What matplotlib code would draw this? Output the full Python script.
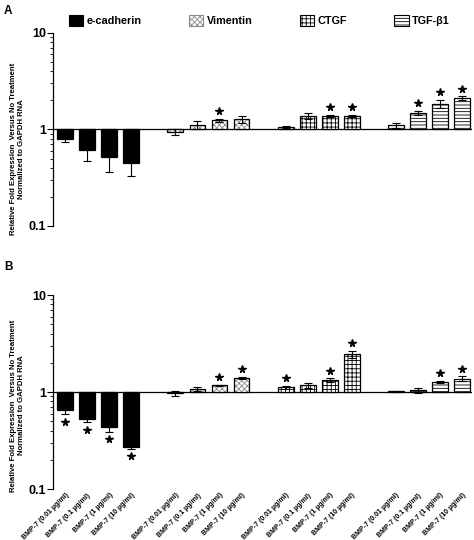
import numpy as np
import matplotlib
matplotlib.use("Agg")
import matplotlib.pyplot as plt
from matplotlib.patches import Patch

# -----------------------------
# Dados
# -----------------------------
genes = ["e-cadherin", "Vimentin", "CTGF", "TGF-β1"]
doses = ["BMP-7 (0.01 µg/ml)", "BMP-7 (0.1 µg/ml)", "BMP-7 (1 µg/ml)", "BMP-7 (10 µg/ml)"]

# painel A
a_ecad = [0.79, 0.61, 0.52, 0.45]
a_ecad_err = [0.05, 0.14, 0.16, 0.12]
a_vim = [0.95, 1.12, 1.24, 1.27]
a_vim_err = [0.07, 0.10, 0.05, 0.10]
a_ctgf = [1.06, 1.38, 1.38, 1.39]
a_ctgf_err = [0.03, 0.11, 0.03, 0.04]
a_tgf = [1.10, 1.49, 1.85, 2.10]
a_tgf_err = [0.07, 0.06, 0.17, 0.10]
a_star = [[0, 0, 0, 0], [0, 0, 1, 0], [0, 0, 1, 1], [0, 1, 1, 1]]

# painel B
b_ecad = [0.65, 0.53, 0.44, 0.27]
b_ecad_err = [0.06, 0.04, 0.05, 0.01]
b_vim = [0.97, 1.07, 1.17, 1.40]
b_vim_err = [0.05, 0.05, 0.02, 0.03]
b_ctgf = [1.12, 1.18, 1.32, 2.45]
b_ctgf_err = [0.04, 0.07, 0.06, 0.22]
b_tgf = [1.02, 1.04, 1.27, 1.37]
b_tgf_err = [0.01, 0.07, 0.03, 0.08]
b_star = [[1, 1, 1, 1], [0, 0, 1, 1], [1, 0, 1, 1], [0, 0, 1, 1]]

# -----------------------------
# Estilo
# -----------------------------
plt.rcParams["font.family"] = ["Liberation Sans", "DejaVu Sans"]
plt.rcParams["font.weight"] = "bold"
plt.rcParams["hatch.linewidth"] = 0.6

styles = [
    dict(facecolor="black", edgecolor="black", hatch=None),
    dict(facecolor="white", edgecolor="#8c8c8c", hatch="xxxxxx"),
    dict(facecolor="white", edgecolor="black", hatch="++++"),
    dict(facecolor="white", edgecolor="black", hatch="-----"),
]
bar_w = 0.72


def draw_panel(ax, series, errs, stars, show_labels):
    """Desenha as 4 séries (genes) com barras partindo de 1 em escala log."""
    ax.set_yscale("log")
    ax.set_ylim(0.1, 10)
    ax.set_xlim(-0.55, 18.45)

    for g, (vals, err) in enumerate(zip(series, errs)):
        vals = np.array(vals)
        err = np.array(err)
        x = g * 5 + np.arange(len(vals))
        st = styles[g]
        ax.bar(x, vals - 1, bottom=1, width=bar_w, facecolor=st["facecolor"],
               edgecolor=st["edgecolor"], hatch=st["hatch"], linewidth=0, zorder=2)
        # contorno preto por cima (o hachurado pode ser cinza)
        ax.bar(x, vals - 1, bottom=1, width=bar_w, fill=False,
               edgecolor="black", linewidth=0.9, zorder=3)
        ax.errorbar(x, vals, yerr=err, fmt="none", ecolor="black",
                    elinewidth=0.8, capsize=3, capthick=0.8, zorder=4)

        # asteriscos de significância
        for i in range(len(vals)):
            if not stars[g][i]:
                continue
            if vals[i] >= 1:
                ys = (vals[i] + err[i]) * 1.2
            else:
                ys = (vals[i] - err[i]) / 1.2
            ax.plot(x[i], ys, marker="*", color="black", markersize=5.5, zorder=5)

    ax.axhline(1, color="black", linewidth=0.9, zorder=1)

    for s in ["top", "right", "bottom"]:
        ax.spines[s].set_visible(False)
    ax.spines["left"].set_linewidth(0.9)

    ax.set_yticks([0.1, 1, 10])
    ax.set_yticklabels(["0.1", "1", "10"], fontsize=9, fontweight="bold")
    ax.tick_params(axis="y", which="major", length=4, width=0.8, pad=1)
    ax.tick_params(axis="y", which="minor", length=2, width=0.6)

    xt = [g * 5 + i for g in range(4) for i in range(4)]
    ax.set_xticks(xt)
    if show_labels:
        ax.set_xticklabels(doses * 4, rotation=45, ha="right", va="top",
                           rotation_mode="anchor", fontsize=5, fontweight="bold")
    else:
        ax.set_xticklabels([])
    ax.tick_params(axis="x", length=0, pad=2)

    ax.set_ylabel("Relative Fold Expression  Versus No Treatment\nNormalized to GAPDH RNA",
                  fontsize=5.6, fontweight="bold", linespacing=1.3)


fig = plt.figure(figsize=(4.74, 5.4), dpi=100)

ax_a = fig.add_axes([0.1118, 0.5815, 0.884, 0.3574])
draw_panel(ax_a, [a_ecad, a_vim, a_ctgf, a_tgf],
           [a_ecad_err, a_vim_err, a_ctgf_err, a_tgf_err], a_star, False)
ax_a.yaxis.set_label_coords(-0.066, 0.40)

ax_b = fig.add_axes([0.1118, 0.0944, 0.884, 0.3593])
draw_panel(ax_b, [b_ecad, b_vim, b_ctgf, b_tgf],
           [b_ecad_err, b_vim_err, b_ctgf_err, b_tgf_err], b_star, True)
ax_b.yaxis.set_label_coords(-0.066, 0.43)

# legenda no topo
handles = [Patch(facecolor=st["facecolor"], edgecolor="black", hatch=st["hatch"], linewidth=0.8)
           for st in styles]
handles[1] = Patch(facecolor="white", edgecolor="#8c8c8c", hatch="xxxxxx", linewidth=0.8)
fig.legend(handles, genes, loc="center left", bbox_to_anchor=(0.146, 0.962), ncol=4,
           frameon=False, fontsize=7.8, handlelength=1.3, handleheight=1.2,
           handletextpad=0.3, columnspacing=4.4, borderaxespad=0, borderpad=0)

fig.text(0.008, 0.99, "A", fontsize=8.5, fontweight="bold", va="top")
fig.text(0.008, 0.517, "B", fontsize=8.5, fontweight="bold", va="top")

fig.savefig("out.png", dpi=100)
